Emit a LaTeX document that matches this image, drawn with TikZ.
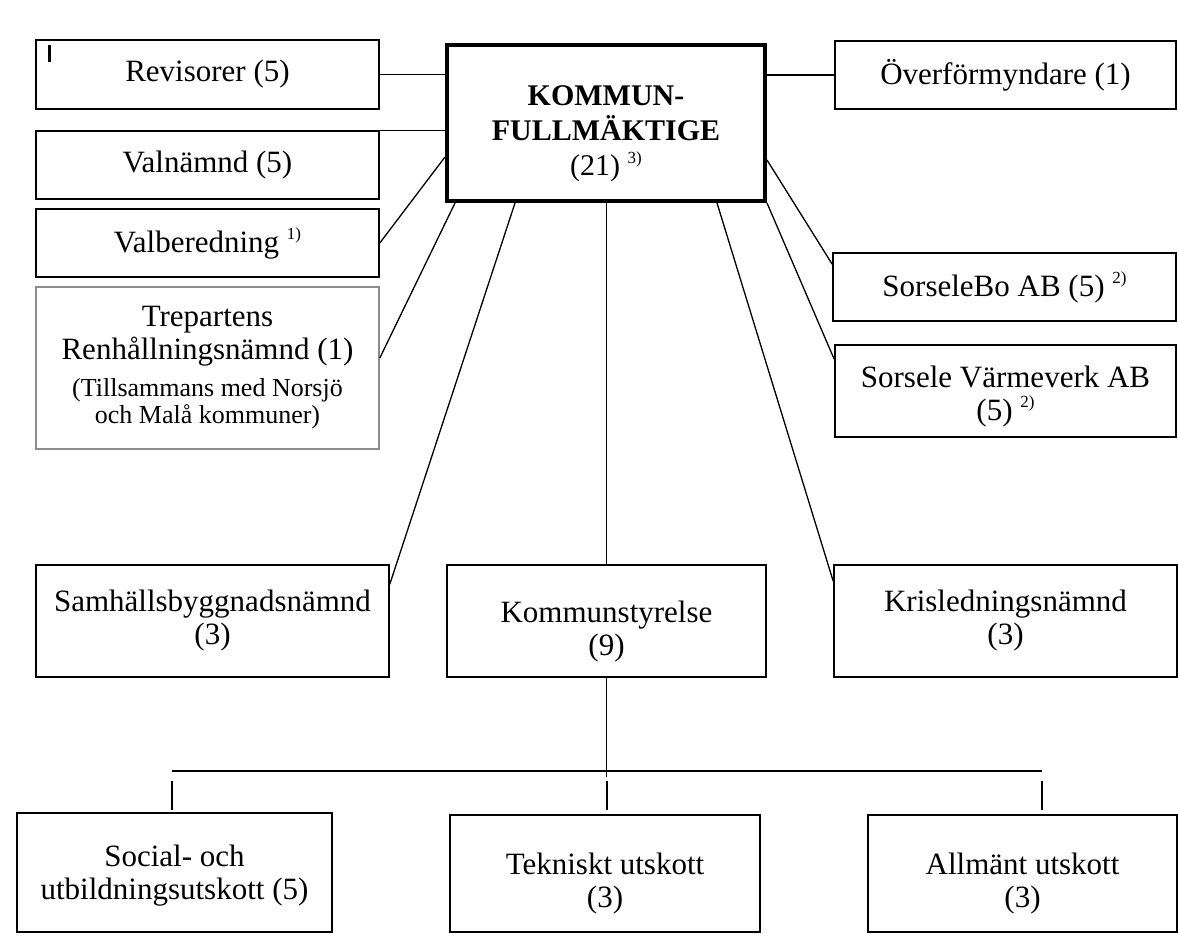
\documentclass[tikz,border=0pt]{standalone}
\usepackage{fontspec}
\setmainfont{Liberation Serif}
\newcommand\supx[1]{\raisebox{0.42em}{\fontsize{17}{17}\selectfont #1}}
\begin{document}
\begin{tikzpicture}[x=1pt,y=-1pt,
  every node/.style={font=\fontsize{31}{33}\selectfont},
  box/.style={draw=black, line width=1.6pt, fill=white, align=center, inner sep=0pt},
  boxtext/.style={align=center, inner sep=0pt},
  conn/.style={draw=black, line width=1.3pt},
  tickline/.style={draw=black, line width=1.6pt}]
\useasboundingbox (0,0) rectangle (1178,935);
% top-left group
\node[box, minimum width=343pt, minimum height=69pt] (rev) at (207.5,74.5) {Revisorer (5)};
\node[box, minimum width=343pt, minimum height=68pt] (valn) at (207.5,165) {Valnämnd (5)};
\node[box, minimum width=343pt, minimum height=68pt] (valb) at (207.5,243) {Valberedning \supx{1)}};
\node[box, draw=black!45, minimum width=343pt, minimum height=162pt] (trep) at (207.5,368)
  {Trepartens\\Renhållningsnämnd (1)\\[4pt]{\fontsize{26}{27}\selectfont (Tillsammans med Norsjö}\\[-6pt]{\fontsize{26}{27}\selectfont och Malå kommuner)}};
% central
\node[box, line width=4pt, minimum width=318pt, minimum height=156pt] (kf) at (606,123) {};
\node[boxtext, font=\fontsize{30}{35}\selectfont] (kft) at (606,134)
  {\textbf{KOMMUN-}\\\textbf{FULLMÄKTIGE}\\(21) \supx{3)}};
% right group
\node[box, minimum width=341pt, minimum height=68pt] (ovf) at (1005.5,75) {Överförmyndare (1)};
\node[box, minimum width=343pt, minimum height=68pt] (sbo) at (1004.5,287) {SorseleBo AB (5) \supx{2)}};
\node[box, minimum width=341pt, minimum height=92pt] (svv) at (1005.5,391) {};
\node[boxtext] (svvt) at (1005.5,397) {Sorsele Värmeverk AB\\(5) \supx{2)}};
% middle row
\node[box, minimum width=353pt, minimum height=112pt] (samh) at (212.5,621) {Samhällsbyggnadsnämnd\\(3)};
\node[box, minimum width=319pt, minimum height=112pt] (ks) at (606.5,621) {};
\node[boxtext] (kst) at (606.5,632) {Kommunstyrelse\\(9)};
\node[box, minimum width=343pt, minimum height=112pt] (kris) at (1005.5,621) {Krisledningsnämnd\\(3)};
% bottom row
\node[box, minimum width=315pt, minimum height=119pt] (soc) at (174.5,872.5) {};
\node[boxtext] (soct) at (174.5,876) {Social- och\\utbildningsutskott (5)};
\node[box, minimum width=310pt, minimum height=117pt] (tek) at (605,873.5) {};
\node[boxtext] (tekt) at (605,884) {Tekniskt utskott\\(3)};
\node[box, minimum width=309pt, minimum height=117pt] (allm) at (1022.5,873.5) {};
\node[boxtext] (allmt) at (1022.5,884) {Allmänt utskott\\(3)};
% stray mark
\draw[line width=3pt] (49,45) -- (49,62);
% connectors from KF
\draw[conn] (rev.east) -- (rev.east -| kf.west);
\draw[conn] (valn.north east) -- (valn.north east -| kf.west);
\draw[conn] (valb.east) -- ([yshift=-34pt]kf.west);
\draw[conn] ([yshift=10pt]trep.east) -- ([xshift=10pt]kf.south west);
\draw[conn] ([yshift=-20pt]samh.north east) -- ([xshift=70pt]kf.south west);
\draw[conn] (ks.north) -- (ks.north |- kf.south);
\draw[conn] ([yshift=-17pt]kris.north west) -- ([xshift=-50pt]kf.south east);
\draw[conn] ([yshift=-12pt]sbo.north west) -- ([yshift=-37pt]kf.east);
\draw[conn] ([yshift=-15pt]svv.north west) -- (kf.south east);
\draw[conn] (ovf.west) -- (ovf.west -| kf.east);
% bus below Kommunstyrelse
\coordinate (busL) at (172,771);
\coordinate (busR) at (1042,771);
\coordinate (busM) at (606.5,771);
\draw[conn] (ks.south) -- ([yshift=-6pt]busM);
\draw[conn] (busL) -- (busR);
\coordinate (tL1) at (172,781); \coordinate (tL2) at (172,810);
\coordinate (tM1) at (607,781); \coordinate (tM2) at (607,810);
\coordinate (tR1) at (1042,781); \coordinate (tR2) at (1042,810);
\draw[tickline] (tL1) -- (tL2);
\draw[tickline] (tM1) -- (tM2);
\draw[tickline] (tR1) -- (tR2);
\end{tikzpicture}
\end{document}
